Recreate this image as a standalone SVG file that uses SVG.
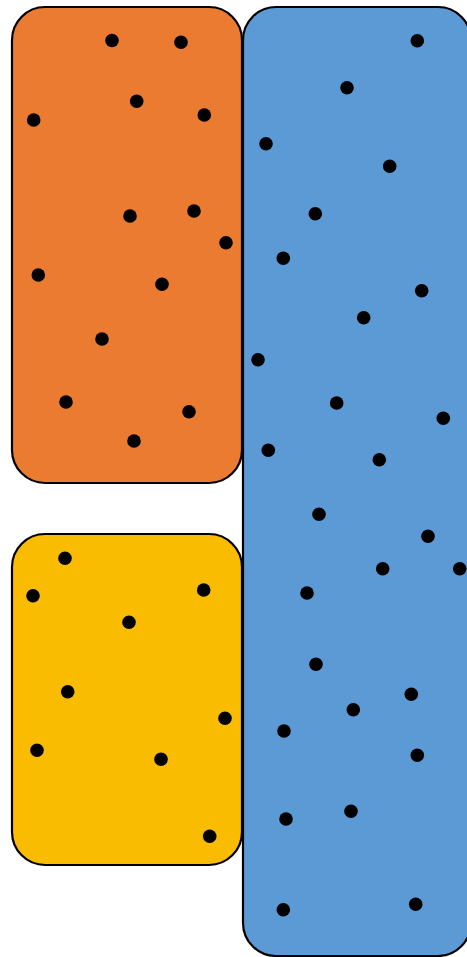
<svg xmlns="http://www.w3.org/2000/svg" width="467" height="957" viewBox="0 0 467 957">
<style>
.box{stroke:#000;stroke-width:2.2}
.dot{fill:#000}
</style>
<rect width="467" height="957" fill="#fff"/>
<g id="orange">
<rect class="box" x="12" y="7" width="230" height="476" rx="33" fill="#EA7B31"/>
<g class="dot">
<circle cx="112" cy="40.5" r="6.8"/><circle cx="181" cy="42.3" r="6.8"/><circle cx="136.7" cy="101.3" r="6.8"/>
<circle cx="33.7" cy="120" r="6.8"/><circle cx="204.3" cy="115" r="6.8"/><circle cx="130" cy="216" r="6.8"/>
<circle cx="194" cy="211" r="6.8"/><circle cx="226" cy="242.7" r="6.8"/><circle cx="38.3" cy="275" r="6.8"/>
<circle cx="162" cy="284.3" r="6.8"/><circle cx="102" cy="339" r="6.8"/><circle cx="66" cy="402" r="6.8"/>
<circle cx="189" cy="411.7" r="6.8"/><circle cx="134" cy="441" r="6.8"/>
</g>
</g>
<g id="yellow">
<rect class="box" x="12" y="534" width="230" height="331" rx="33" fill="#FABC00"/>
<g class="dot">
<circle cx="65" cy="558.3" r="6.8"/><circle cx="33" cy="595.7" r="6.8"/><circle cx="203.7" cy="590" r="6.8"/>
<circle cx="129" cy="622.3" r="6.8"/><circle cx="67.7" cy="691.7" r="6.8"/><circle cx="225" cy="718.3" r="6.8"/>
<circle cx="37" cy="750.3" r="6.8"/><circle cx="161" cy="759.3" r="6.8"/><circle cx="209.7" cy="836.3" r="6.8"/>
</g>
</g>
<g id="blue">
<rect class="box" x="243" y="7" width="228" height="949" rx="33" fill="#5B9AD5"/>
<g class="dot">
<circle cx="417.3" cy="40.7" r="6.8"/><circle cx="347" cy="87.7" r="6.8"/><circle cx="266" cy="143.7" r="6.8"/>
<circle cx="389.7" cy="166.3" r="6.8"/><circle cx="315.3" cy="213.7" r="6.8"/><circle cx="283.3" cy="258.3" r="6.8"/>
<circle cx="421.7" cy="290.7" r="6.8"/><circle cx="363.7" cy="317.7" r="6.8"/><circle cx="258" cy="359.7" r="6.8"/>
<circle cx="336.7" cy="403" r="6.8"/><circle cx="443.3" cy="418.3" r="6.8"/><circle cx="268.3" cy="450.3" r="6.8"/>
<circle cx="379.3" cy="459.7" r="6.8"/><circle cx="319" cy="514.3" r="6.8"/><circle cx="428" cy="536.3" r="6.8"/>
<circle cx="382.7" cy="568.7" r="6.8"/><circle cx="459.7" cy="568.7" r="6.8"/><circle cx="307" cy="593" r="6.8"/>
<circle cx="316" cy="664.3" r="6.8"/><circle cx="411.3" cy="694.3" r="6.8"/><circle cx="353.3" cy="709.7" r="6.8"/>
<circle cx="284" cy="731" r="6.8"/><circle cx="417.3" cy="755.3" r="6.8"/><circle cx="351" cy="811.3" r="6.8"/>
<circle cx="286" cy="819" r="6.8"/><circle cx="415.7" cy="904.3" r="6.8"/><circle cx="283.3" cy="909.7" r="6.8"/>
</g>
</g>
</svg>
